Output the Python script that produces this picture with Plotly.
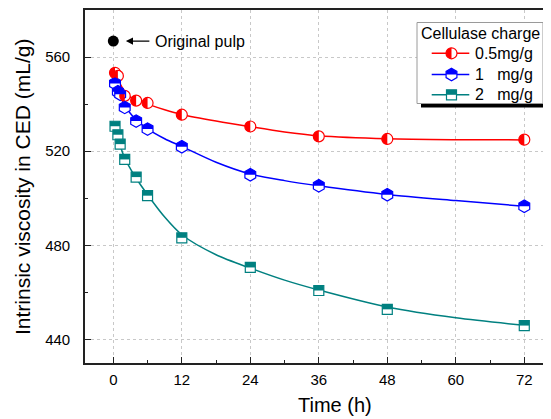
import plotly.graph_objects as go
import math

# ---------------- data ----------------
t_red = [0.3, 0.8, 2, 4, 6, 12, 24, 36, 48, 72]
v_red = [553.3, 552.0, 543.5, 541.5, 540.5, 535.5, 530.5, 526.3, 525.2, 524.9]

t_blue = [0.3, 0.8, 1.2, 2, 4, 6, 12, 24, 36, 48, 72]
v_blue = [548.8, 545.3, 544.2, 538.6, 532.8, 529.4, 521.9, 510.0, 505.3, 501.5, 496.6]

t_teal = [0.3, 0.8, 1.2, 2, 4, 6, 12, 24, 36, 48, 72]
v_teal = [530.6, 527.0, 523.0, 516.5, 509.0, 501.1, 483.2, 470.6, 460.8, 452.8, 445.9]

# fitted curves
t_fit = [0.3, 1, 2, 3, 4, 6, 9, 12, 18, 24, 30, 36, 48, 60, 72]
fit_red = [553.5, 549.5, 545.5, 543.0, 541.8, 540.0, 537.6, 535.6, 532.8, 530.4, 528.2, 526.6, 525.3, 524.9, 524.8]
fit_blue = [549.0, 544.5, 539.5, 536.0, 533.3, 529.5, 525.3, 522.0, 515.3, 510.3, 507.5, 505.3, 501.6, 499.0, 496.6]
fit_teal = [530.5, 524.0, 517.0, 512.5, 508.5, 501.5, 492.0, 484.5, 476.0, 470.3, 465.2, 461.0, 453.8, 449.2, 446.0]

orig_t = [0]
orig_v = [566.8]

series_names = ["0.5mg/g", "1\u00a0\u00a0\u00a0mg/g", "2\u00a0\u00a0\u00a0mg/g"]
x_ticks = [0, 12, 24, 36, 48, 60, 72]
y_ticks = [440, 480, 520, 560]

RED = "#ff0000"
BLUE = "#0000ff"
TEAL = "#008080"

# ---------------- geometry helpers ----------------
# the page body has an 8px margin, so the figure is made 8px smaller
OFF = 8
W, H = 551 - OFF, 419 - OFF
PL, PT, PB, PR = 85, 10, 363, 551   # plot box in window pixels
ML, MT, MB, MR = PL - OFF, PT - OFF, 419 - PB, 0
PW = PR - PL
PH = PB - PT


def pxx(px):
    return (px - PL) / PW


def pxy(py):
    return (PB - py) / PH


K = 0.5523


def half_path(kind, size):
    r = size / 2.0
    if kind == "circle":  # left half
        return (f"M 0,{r} C {-K*r},{r} {-r},{K*r} {-r},0 "
                f"C {-r},{-K*r} {-K*r},{-r} 0,{-r} Z")
    if kind == "hexagon":  # top half
        r2 = r / 2.0
        r3 = r * math.sqrt(3) / 2.0
        return f"M 0,{r} L {r3},{r2} L {r3},0 L {-r3},0 L {-r3},{r2} Z"
    # square top half
    return f"M {-r},{r} L {r},{r} L {r},0 L {-r},0 Z"


def full_path(kind, size):
    r = size / 2.0
    if kind == "circle":
        return (f"M 0,{r} C {-K*r},{r} {-r},{K*r} {-r},0 "
                f"C {-r},{-K*r} {-K*r},{-r} 0,{-r} "
                f"C {K*r},{-r} {r},{-K*r} {r},0 "
                f"C {r},{K*r} {K*r},{r} 0,{r} Z")
    if kind == "hexagon":
        r2 = r / 2.0
        r3 = r * math.sqrt(3) / 2.0
        return (f"M 0,{r} L {r3},{r2} L {r3},{-r2} L 0,{-r} "
                f"L {-r3},{-r2} L {-r3},{r2} Z")
    return f"M {-r},{r} L {r},{r} L {r},{-r} L {-r},{-r} Z"


fig = go.Figure()
shapes = []
annotations = []

specs = [
    (t_red, v_red, fit_red, RED, "circle", 11),
    (t_blue, v_blue, fit_blue, BLUE, "hexagon", 12.5),
    (t_teal, v_teal, fit_teal, TEAL, "square", 10),
]

for (ts, vs, fit, col, kind, size), name in zip(specs, series_names):
    fig.add_trace(go.Scatter(
        x=t_fit, y=fit, mode="lines",
        line=dict(color=col, width=1.5, shape="spline", smoothing=0.8),
        showlegend=False, hoverinfo="skip"))

for (ts, vs, fit, col, kind, size), name in zip(specs, series_names):
    fig.add_trace(go.Scatter(
        x=ts, y=vs, mode="markers", name=name,
        marker=dict(symbol=kind, size=size, color="white",
                    line=dict(color=col, width=1.2)),
        showlegend=False))
    for tx, vy in zip(ts, vs):
        shapes.append(dict(
            type="path", xref="x", yref="y",
            xsizemode="pixel", ysizemode="pixel",
            xanchor=tx, yanchor=vy,
            path=half_path(kind, size),
            fillcolor=col, line=dict(width=0), layer="above"))

# original pulp
fig.add_trace(go.Scatter(
    x=orig_t, y=orig_v, mode="markers",
    marker=dict(symbol="circle", size=11, color="black"),
    showlegend=False))

annotations.append(dict(
    x=2.2, y=orig_v[0], xref="x", yref="y", text="",
    showarrow=True, ax=25, ay=0, arrowhead=2, arrowsize=1.1,
    arrowwidth=1.3, arrowcolor="black"))
annotations.append(dict(
    x=7.0, y=orig_v[0], xref="x", yref="y", text="Original pulp",
    showarrow=False, xanchor="left", yanchor="middle",
    font=dict(size=16, color="black")))

# ---------------- manual legend ----------------
box_l, box_t, box_r, box_b = 417, 22.5, 543, 103.5
sh = 4
shapes.append(dict(type="rect", xref="paper", yref="paper",
                   x0=pxx(box_l + sh), x1=pxx(box_r + sh),
                   y0=pxy(box_b + sh), y1=pxy(box_t + sh),
                   fillcolor="black", line=dict(width=0), layer="above"))
shapes.append(dict(type="rect", xref="paper", yref="paper",
                   x0=pxx(box_l), x1=pxx(box_r),
                   y0=pxy(box_b), y1=pxy(box_t),
                   fillcolor="white", line=dict(color="#9a9a9a", width=1),
                   layer="above"))
annotations.append(dict(
    x=pxx(480), y=pxy(33.5), xref="paper", yref="paper",
    text="Cellulase charge", showarrow=False, xanchor="center",
    yanchor="middle", font=dict(size=16, color="black")))

rows_y = [53.3, 74.5, 94.8]
for (ts, vs, fit, col, kind, size), name, ry in zip(specs, series_names, rows_y):
    shapes.append(dict(type="line", xref="paper", yref="paper",
                       x0=pxx(431.7), x1=pxx(469.3),
                       y0=pxy(ry), y1=pxy(ry),
                       line=dict(color=col, width=1.5), layer="above"))
    shapes.append(dict(type="path", xref="paper", yref="paper",
                       xsizemode="pixel", ysizemode="pixel",
                       xanchor=pxx(451.5), yanchor=pxy(ry),
                       path=full_path(kind, size),
                       fillcolor="white", line=dict(color=col, width=1.2),
                       layer="above"))
    shapes.append(dict(type="path", xref="paper", yref="paper",
                       xsizemode="pixel", ysizemode="pixel",
                       xanchor=pxx(451.5), yanchor=pxy(ry),
                       path=half_path(kind, size),
                       fillcolor=col, line=dict(width=0), layer="above"))
    annotations.append(dict(
        x=pxx(472.7), y=pxy(ry), xref="paper", yref="paper",
        text=name, showarrow=False, xanchor="left", yanchor="middle",
        font=dict(size=16, color="black")))

# axis titles
annotations.append(dict(
    x=pxx(335), y=pxy(405), xref="paper", yref="paper", text="Time (h)",
    showarrow=False, xanchor="center", yanchor="middle",
    font=dict(size=20, color="black")))
annotations.append(dict(
    x=pxx(22), y=pxy(187), xref="paper", yref="paper",
    text="Intrinsic viscosity in CED (mL/g)", textangle=-90,
    showarrow=False, xanchor="center", yanchor="middle",
    font=dict(size=21, color="black")))

fig.update_layout(
    width=W, height=H,
    margin=dict(l=ML, r=MR, t=MT, b=MB, pad=0),
    paper_bgcolor="white", plot_bgcolor="white",
    font=dict(family="Liberation Sans, Arial, sans-serif", color="black"),
    shapes=shapes, annotations=annotations,
    showlegend=False,
)
fig.update_xaxes(
    range=[-4.96, 76.68], tickvals=x_ticks, ticktext=[str(v) for v in x_ticks],
    ticks="inside", ticklen=6, tickwidth=1.3, tickcolor="#222",
    showline=True, linecolor="#222", linewidth=1.6, mirror=True,
    showgrid=True, gridcolor="#c8c8c8", griddash="dot", gridwidth=1,
    zeroline=False, tickfont=dict(size=15),
    minor=dict(tickvals=[6, 18, 30, 42, 54, 66], ticks="inside", ticklen=3.5,
               tickwidth=1.2, tickcolor="#222", showgrid=False),
    ticklabelstandoff=2,
)
fig.update_yaxes(
    range=[430, 580], tickvals=y_ticks, ticktext=[str(v) for v in y_ticks],
    ticks="inside", ticklen=6, tickwidth=1.3, tickcolor="#222",
    showline=True, linecolor="#222", linewidth=1.6, mirror=False,
    showgrid=True, gridcolor="#c8c8c8", griddash="dot", gridwidth=1,
    zeroline=False, tickfont=dict(size=15),
    minor=dict(tickvals=[460, 500, 540], ticks="inside", ticklen=3.5,
               tickwidth=1.2, tickcolor="#222", showgrid=False),
    ticklabelstandoff=10,
)

fig.write_html("out.html")
